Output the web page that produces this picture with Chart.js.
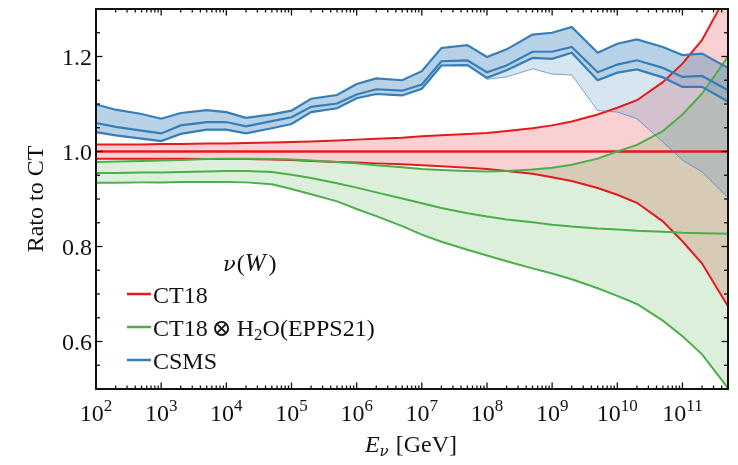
<!DOCTYPE html>
<html>
<head>
<meta charset="utf-8">
<script src="https://cdn.jsdelivr.net/npm/chart.js@4.4.1/dist/chart.umd.min.js"></script>
<style>
  html, body { margin: 0; padding: 0; background: #fff; }
</style>
</head>
<body>
<canvas id="ratioChart" width="738" height="465"></canvas>
<script>
        // Neutrino energies (GeV), three points per decade
        const energies = [
            1e2, 2e2, 5e2, 1e3, 2e3, 5e3, 1e4, 2e4, 5e4, 1e5, 2e5, 5e5,
            1e6, 2e6, 5e6, 1e7, 2e7, 5e7, 1e8, 2e8, 5e8, 1e9, 2e9, 5e9,
            1e10, 2e10, 5e10, 1e11, 2e11, 5e11
        ];

        // CT18 (reference), ratio and PDF uncertainty band
        const ct18Central = [
            1.000, 1.000, 1.000, 1.000, 1.000, 1.000, 1.000, 1.000, 1.000, 1.000,
            1.000, 1.000, 1.000, 1.000, 1.000, 1.000, 1.000, 1.000, 1.000, 1.000,
            1.000, 1.000, 1.000, 1.000, 1.000, 1.000, 1.000, 1.000, 1.000, 1.000
        ];
        const ct18Upper = [
            1.015, 1.015, 1.015, 1.016, 1.016, 1.017, 1.017, 1.018, 1.019, 1.020,
            1.021, 1.023, 1.025, 1.027, 1.029, 1.032, 1.034, 1.037, 1.039, 1.043,
            1.049, 1.055, 1.063, 1.078, 1.092, 1.108, 1.146, 1.185, 1.235, 1.335
        ];
        const ct18Lower = [
            0.985, 0.985, 0.985, 0.985, 0.985, 0.984, 0.984, 0.984, 0.983, 0.982,
            0.980, 0.978, 0.977, 0.975, 0.973, 0.971, 0.969, 0.966, 0.963, 0.959,
            0.953, 0.946, 0.938, 0.923, 0.909, 0.892, 0.853, 0.811, 0.764, 0.674
        ];

        // CT18 with EPPS21 nuclear corrections for water
        const h2oUpper = [
            0.978, 0.979, 0.980, 0.981, 0.982, 0.984, 0.985, 0.985, 0.984, 0.983,
            0.981, 0.978, 0.975, 0.971, 0.967, 0.963, 0.961, 0.959, 0.958, 0.959,
            0.962, 0.966, 0.972, 0.985, 1.000, 1.014, 1.043, 1.078, 1.122, 1.200
        ];
        const h2oCentral = [
            0.955, 0.955, 0.956, 0.956, 0.957, 0.958, 0.959, 0.959, 0.957, 0.951,
            0.944, 0.933, 0.924, 0.914, 0.901, 0.891, 0.881, 0.870, 0.863, 0.857,
            0.851, 0.846, 0.842, 0.838, 0.836, 0.833, 0.831, 0.829, 0.828, 0.827
        ];
        const h2oLower = [
            0.934, 0.934, 0.935, 0.935, 0.936, 0.936, 0.936, 0.935, 0.931, 0.921,
            0.910, 0.895, 0.879, 0.864, 0.843, 0.825, 0.810, 0.793, 0.781, 0.769,
            0.754, 0.743, 0.731, 0.712, 0.696, 0.679, 0.644, 0.611, 0.573, 0.502
        ];

        // CSMS ratio with its band; the outer edge opens up above 1e8 GeV
        const csmsUpper = [
            1.099, 1.088, 1.079, 1.069, 1.081, 1.087, 1.083, 1.071, 1.078, 1.086,
            1.111, 1.119, 1.142, 1.154, 1.150, 1.169, 1.218, 1.224, 1.199, 1.215,
            1.246, 1.250, 1.262, 1.208, 1.227, 1.236, 1.220, 1.203, 1.206, 1.176
        ];
        const csmsCentral = [
            1.060, 1.052, 1.044, 1.038, 1.055, 1.062, 1.062, 1.053, 1.064, 1.072,
            1.094, 1.101, 1.120, 1.131, 1.128, 1.141, 1.190, 1.192, 1.167, 1.181,
            1.210, 1.210, 1.220, 1.167, 1.183, 1.192, 1.176, 1.157, 1.159, 1.129
        ];
        const csmsLower = [
            1.041, 1.034, 1.027, 1.022, 1.037, 1.046, 1.046, 1.038, 1.049, 1.058,
            1.083, 1.091, 1.112, 1.121, 1.118, 1.132, 1.181, 1.182, 1.155, 1.171,
            1.197, 1.195, 1.208, 1.150, 1.166, 1.173, 1.156, 1.136, 1.136, 1.105
        ];
        const csmsOuter = [
            1.041, 1.034, 1.027, 1.022, 1.037, 1.046, 1.046, 1.038, 1.049, 1.058,
            1.083, 1.091, 1.112, 1.121, 1.118, 1.132, 1.181, 1.182, 1.152, 1.157,
            1.174, 1.163, 1.161, 1.086, 1.083, 1.069, 1.020, 0.982, 0.957, 0.903
        ];

        // Axis ticks and labels
        const xDecades = [2, 3, 4, 5, 6, 7, 8, 9, 10, 11];
        const yMajorTicks = [0.6, 0.8, 1.0, 1.2];
        const yTickLabels = ['0.6', '0.8', '1.0', '1.2'];
        const yMinorTicks = [0.55, 0.65, 0.7, 0.75, 0.85, 0.9, 0.95, 1.05, 1.1, 1.15, 1.25];

        const seriesNames = ['CT18', 'CT18 \u2297 H2O(EPPS21)', 'CSMS'];

        const RED = '#e41a1c';
        const GREEN = '#4daf4a';
        const BLUE = '#377eb8';
        const SERIF = '"Liberation Serif", "DejaVu Serif", serif';
        const GREEK = '"DejaVu Serif", serif';

        const pts = arr => energies.map((e, i) => ({ x: e, y: arr[i] }));

        function lineSet(arr, color, width, fill, bg) {
            return {
                data: pts(arr),
                borderColor: color,
                borderWidth: width,
                backgroundColor: bg || 'transparent',
                fill: fill === undefined ? false : fill,
                pointRadius: 0,
                tension: 0
            };
        }

        // Datasets are drawn last-to-first, so red sits at the bottom
        const datasets = [
            lineSet(csmsUpper, BLUE, 2.2, 3, 'rgba(55,126,184,0.2)'),          // 0
            lineSet(csmsLower, BLUE, 2.2, 0, 'rgba(55,126,184,0.2)'),          // 1
            lineSet(csmsCentral, BLUE, 2.2),                                   // 2
            lineSet(csmsOuter, 'rgba(55,126,184,0.65)', 1),                    // 3
            lineSet(h2oUpper, GREEN, 2, 6, 'rgba(77,175,74,0.2)'),             // 4
            lineSet(h2oCentral, GREEN, 2),                                     // 5
            lineSet(h2oLower, GREEN, 2),                                       // 6
            lineSet(ct18Upper, RED, 2, 9, 'rgba(228,26,28,0.2)'),              // 7
            lineSet(ct18Central, RED, 2.4),                                    // 8
            lineSet(ct18Lower, RED, 2)                                         // 9
        ];

        function drawRuns(ctx, x, y, runs, align) {
            let total = 0;
            runs.forEach(r => {
                ctx.font = r.font;
                r.w = ctx.measureText(r.t).width + (r.gap || 0);
                total += r.w;
            });
            let cx = align === 'center' ? x - total / 2 : x;
            runs.forEach(r => {
                ctx.font = r.font;
                ctx.fillText(r.t, cx, y + (r.dy || 0));
                cx += r.w;
            });
        }

        // Frame, inward ticks on all sides, tick labels, titles and legend
        const axesPlugin = {
            id: 'axesPlugin',
            afterDraw(chart) {
                const { ctx, chartArea: a, scales: { x, y } } = chart;
                const seg = (x1, y1, x2, y2) => {
                    ctx.beginPath(); ctx.moveTo(x1, y1); ctx.lineTo(x2, y2); ctx.stroke();
                };
                ctx.save();
                ctx.strokeStyle = '#111';
                ctx.fillStyle = '#111';
                ctx.lineWidth = 1.3;

                xDecades.forEach(p => {
                    for (let m = 1; m <= 9; m++) {
                        const v = m * Math.pow(10, p);
                        if (v > x.max * 1.001) break;
                        const px = x.getPixelForValue(v);
                        const len = m === 1 ? 6.5 : 3.5;
                        seg(px, a.bottom, px, a.bottom - len);
                        seg(px, a.top, px, a.top + len);
                    }
                });
                yMajorTicks.forEach(v => {
                    const py = y.getPixelForValue(v);
                    seg(a.left, py, a.left + 6.5, py);
                    seg(a.right, py, a.right - 6.5, py);
                });
                yMinorTicks.forEach(v => {
                    const py = y.getPixelForValue(v);
                    seg(a.left, py, a.left + 4, py);
                    seg(a.right, py, a.right - 4, py);
                });

                ctx.lineWidth = 2;
                ctx.strokeRect(a.left, a.top, a.right - a.left, a.bottom - a.top);

                // tick labels
                ctx.textBaseline = 'alphabetic';
                ctx.textAlign = 'right';
                ctx.font = '24px ' + SERIF;
                yMajorTicks.forEach((v, i) => {
                    ctx.fillText(yTickLabels[i], a.left - 4, y.getPixelForValue(v) + 8);
                });
                ctx.textAlign = 'left';
                xDecades.forEach(p => {
                    drawRuns(ctx, x.getPixelForValue(Math.pow(10, p)), a.bottom + 32, [
                        { t: '10', font: '24px ' + SERIF },
                        { t: String(p), font: '17px ' + SERIF, dy: -10 }
                    ], 'center');
                });

                // axis titles
                drawRuns(ctx, (a.left + a.right) / 2 - 1, a.bottom + 63, [
                    { t: 'E', font: 'italic 24px ' + SERIF },
                    { t: '\u03bd', font: 'italic 15px ' + GREEK, dy: 4, gap: 7 },
                    { t: '[GeV]', font: '24px ' + SERIF }
                ], 'center');
                ctx.save();
                ctx.translate(43, (a.top + a.bottom) / 2);
                ctx.rotate(-Math.PI / 2);
                ctx.textAlign = 'center';
                ctx.font = '24px ' + SERIF;
                ctx.fillText('Rato to CT', 0, 0);
                ctx.restore();

                // legend
                ctx.textAlign = 'left';
                drawRuns(ctx, 223, 271, [
                    { t: '\u03bd', font: 'italic 21px ' + GREEK, gap: 1 },
                    { t: '(', font: '24px ' + SERIF },
                    { t: 'W', font: 'italic 25px ' + SERIF, gap: 3 },
                    { t: ')', font: '24px ' + SERIF }
                ]);
                const rows = [
                    { color: RED, yy: 303 },
                    { color: GREEN, yy: 336 },
                    { color: BLUE, yy: 369 }
                ];
                rows.forEach(r => {
                    ctx.strokeStyle = r.color;
                    ctx.lineWidth = 2.5;
                    seg(127, r.yy - 9, 151, r.yy - 9);
                });
                ctx.font = '24px ' + SERIF;
                ctx.fillText(seriesNames[0], 153, rows[0].yy);
                drawRuns(ctx, 153, rows[1].yy, [
                    { t: 'CT18', font: '24px ' + SERIF, gap: 4 },
                    { t: '\u2297', font: '24px ' + GREEK, gap: 5 },
                    { t: 'H', font: '24px ' + SERIF },
                    { t: '2', font: '17px ' + SERIF, dy: 4 },
                    { t: 'O(EPPS21)', font: '24px ' + SERIF }
                ]);
                ctx.font = '24px ' + SERIF;
                ctx.fillText(seriesNames[2], 153, rows[2].yy);
                ctx.restore();
            }
        };

        new Chart(document.getElementById('ratioChart').getContext('2d'), {
            type: 'line',
            data: { datasets },
            options: {
                responsive: false,
                animation: false,
                layout: { padding: { left: 96, right: 10, top: 9, bottom: 76 } },
                scales: {
                    x: { type: 'logarithmic', min: 1e2, max: 5e11, display: false },
                    y: { type: 'linear', min: 0.5, max: 1.3, display: false }
                },
                plugins: {
                    legend: { display: false },
                    tooltip: { enabled: false },
                    filler: { drawTime: 'beforeDatasetsDraw' }
                }
            },
            plugins: [axesPlugin]
        });
</script>
</body>
</html>
